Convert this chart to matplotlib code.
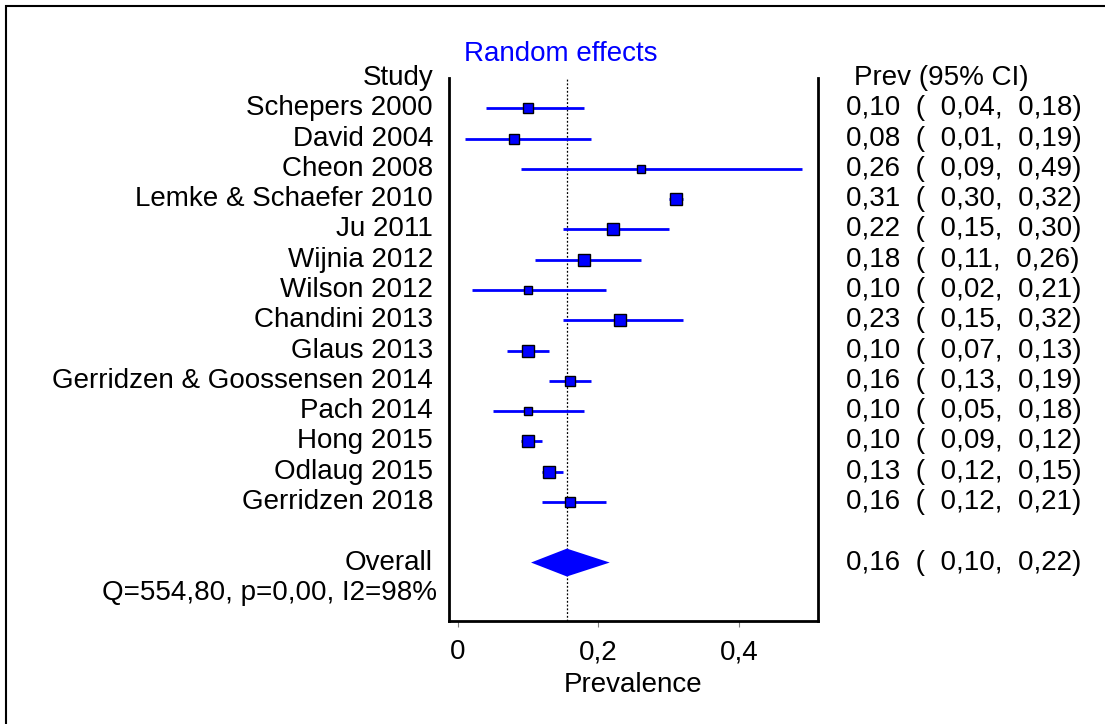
import matplotlib
matplotlib.use('Agg')
import matplotlib.pyplot as plt
from matplotlib.patches import Polygon, Rectangle

plt.rcParams['font.family'] = ['Liberation Sans', 'DejaVu Sans']

# Study data (prevalence and 95% CI)
studies = ['Schepers 2000', 'David 2004', 'Cheon 2008', 'Lemke & Schaefer 2010',
           'Ju 2011', 'Wijnia 2012', 'Wilson 2012', 'Chandini 2013', 'Glaus 2013',
           'Gerridzen & Goossensen 2014', 'Pach 2014', 'Hong 2015', 'Odlaug 2015',
           'Gerridzen 2018']
prev = [0.10, 0.08, 0.26, 0.31, 0.22, 0.18, 0.10, 0.23, 0.10, 0.16, 0.10, 0.10, 0.13, 0.16]
lower = [0.04, 0.01, 0.09, 0.30, 0.15, 0.11, 0.02, 0.15, 0.07, 0.13, 0.05, 0.09, 0.12, 0.12]
upper = [0.18, 0.19, 0.49, 0.32, 0.30, 0.26, 0.21, 0.32, 0.13, 0.19, 0.18, 0.12, 0.15, 0.21]
# relative random-effects weights
weights = [0.82, 0.82, 0.8, 1.0, 1.0, 1.0, 0.75, 1.0, 1.0, 0.95, 0.75, 1.0, 1.0, 0.95]

overall_est = 0.155
overall_lo = 0.104
overall_hi = 0.216
overall_label = '0,16  (  0,10,  0,22)'
het_text = 'Q=554,80, p=0,00, I2=98%'


def fmt(v):
    return f'{v:.2f}'.replace('.', ',')


fig = plt.figure(figsize=(11.05, 7.24), dpi=100)
# clipped outer border (only top and left visible)
fig.patches.append(Rectangle((6 / 1105, -0.1), 1.2, (718 / 724) + 0.1,
                             transform=fig.transFigure, fill=False,
                             edgecolor='black', linewidth=1.5))

ax = fig.add_axes([449 / 1105, 103 / 724, 369 / 1105, 543 / 724])
fs = 20

rows = list(range(len(studies)))
for r, p, lo, hi, w in zip(rows, prev, lower, upper, weights):
    ax.plot([lo, hi], [r, r], color='blue', linewidth=2, solid_capstyle='butt', zorder=2)
    ax.plot(p, r, marker='s', markersize=8 * w, markerfacecolor='blue',
            markeredgecolor='black', markeredgewidth=1, zorder=3)

orow = len(studies) + 1
diamond = Polygon([[overall_lo, orow], [overall_est, orow - 0.46],
                   [overall_hi, orow], [overall_est, orow + 0.46]],
                  closed=True, facecolor='blue', edgecolor='none', zorder=2)
ax.add_patch(diamond)
ax.axvline(overall_est, color='black', linestyle=(0, (1.5, 1.5)), linewidth=0.9, zorder=1)

ax.set_xlim(-0.0128, 0.5125)
ax.set_ylim(orow + 1.93, -1.0)
ax.spines['top'].set_visible(False)
for s in ['left', 'right', 'bottom']:
    ax.spines[s].set_linewidth(2)
ax.set_yticks([])
ax.set_xticks([0, 0.2, 0.4])
ax.set_xticklabels(['0', '0,2', '0,4'], fontsize=fs)
ax.tick_params(axis='x', length=4, width=0.8, color='gray', pad=9)
ax.set_xlabel('Prevalence', fontsize=fs, labelpad=5)

# left column labels
lab = dict(xycoords=('axes fraction', 'data'), textcoords='offset points',
           ha='right', va='center', fontsize=fs)
ax.annotate('Study', xy=(0, -1), xytext=(-11.5, 0), **lab)
for r, name in zip(rows, studies):
    ax.annotate(name, xy=(0, r), xytext=(-11.5, 0), **lab)
ax.annotate('Overall', xy=(0, orow), xytext=(-11.5, 0), **lab)
ax.annotate(het_text, xy=(0, orow + 1), xytext=(-8.5, 0), **lab)

# right column values
rlab = dict(xycoords=('axes fraction', 'data'), textcoords='offset points',
            ha='left', va='center', fontsize=fs, annotation_clip=False)
ax.annotate('Prev (95% CI)', xy=(1, -1), xytext=(26, 0), **rlab)
for r, p, lo, hi in zip(rows, prev, lower, upper):
    ax.annotate(f'{fmt(p)}  (  {fmt(lo)},  {fmt(hi)})', xy=(1, r), xytext=(20, 0), **rlab)
ax.annotate(overall_label, xy=(1, orow), xytext=(20, 0), **rlab)

fig.text(561 / 1105, 1 - 54 / 724, 'Random effects', color='blue', fontsize=fs,
         ha='center', va='center')

fig.savefig('out.png', dpi=100)
